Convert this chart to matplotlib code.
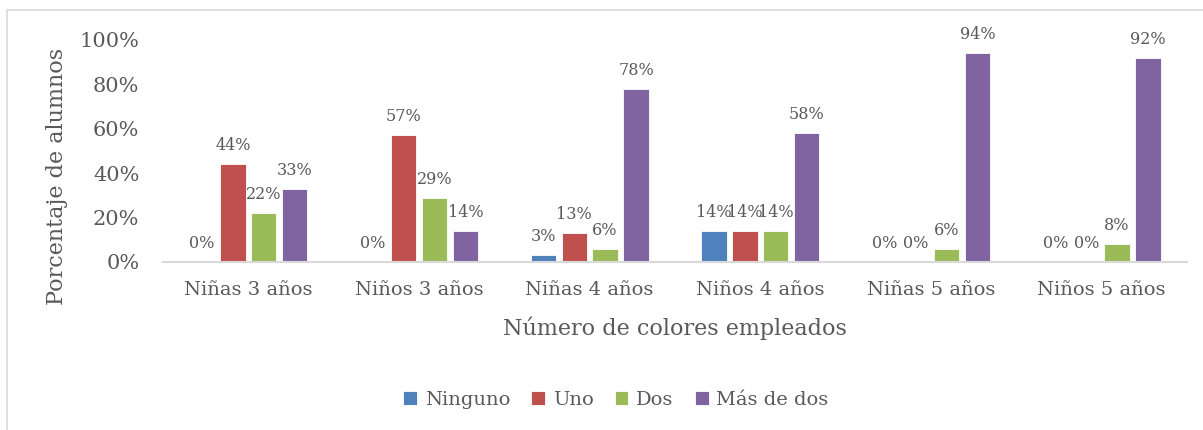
# Gráfico de barras agrupadas: número de colores empleados por grupo de edad y sexo
import numpy as np
import matplotlib.pyplot as plt
from matplotlib.patches import Rectangle

grupos = ['Niñas 3 años', 'Niños 3 años', 'Niñas 4 años',
          'Niños 4 años', 'Niñas 5 años', 'Niños 5 años']
series = ['Ninguno', 'Uno', 'Dos', 'Más de dos']
ninguno = [0, 0, 3, 14, 0, 0]
uno = [44, 57, 13, 14, 0, 0]
dos = [22, 29, 6, 14, 6, 8]
mas_de_dos = [33, 14, 78, 58, 94, 92]
colores = ['#4F81BD', '#C0504D', '#9BBB59', '#8064A2']

gris = '#595959'
plt.rcParams['font.family'] = ['DejaVu Serif']

fig = plt.figure(figsize=(12.03, 4.30), dpi=100)
# marco exterior del gráfico
fig.patches.append(Rectangle((0.0058, -0.05), 1.2, 0.05 + 0.9767, transform=fig.transFigure,
                             fill=False, edgecolor='#d9d9d9', linewidth=1.2))
ax = fig.add_axes([0.1355, 0.3907, 0.8512, 0.5163])

x = np.arange(len(grupos))
paso = 0.181
ancho = 0.148
valores = [ninguno, uno, dos, mas_de_dos]
for k, (nombre, vals) in enumerate(zip(series, valores)):
    pos = x + (k - 1.5) * paso
    v = np.array(vals) / 100.0
    ax.bar(pos, v, width=ancho, color=colores[k], edgecolor='white', linewidth=0.6, label=nombre)
    for xi, vi, txt in zip(pos, v, vals):
        ax.text(xi, vi + 0.045, f'{txt}%', ha='center', va='bottom', fontsize=11.5, color=gris)

ax.set_xlim(-0.5, len(grupos) - 0.5)
ax.set_ylim(0, 1)
ticks = np.arange(0, 1.01, 0.2)
ax.set_yticks(ticks)
ax.set_yticklabels([f'{int(round(t * 100))}%' for t in ticks])
ax.set_xticks(x)
ax.set_xticklabels(grupos)
ax.tick_params(axis='x', length=0, labelsize=14, colors=gris, pad=14)
ax.tick_params(axis='y', length=0, labelsize=15, colors=gris, pad=17)
for lado in ['top', 'right', 'left']:
    ax.spines[lado].set_visible(False)
ax.spines['bottom'].set_color('#d9d9d9')
ax.spines['bottom'].set_linewidth(1.5)

ax.set_ylabel('Porcentaje de alumnos', fontsize=16, color=gris)
ax.yaxis.set_label_coords(-0.093, 0.387)
ax.set_xlabel('Número de colores empleados', fontsize=16, color=gris, labelpad=12)

fig.legend(loc='center', bbox_to_anchor=(0.512, 0.07), ncol=4, frameon=False,
           fontsize=14, labelcolor=gris, handlelength=0.7, handleheight=0.7,
           handletextpad=0.4, columnspacing=1.1)

fig.savefig('out.png', dpi=100)
